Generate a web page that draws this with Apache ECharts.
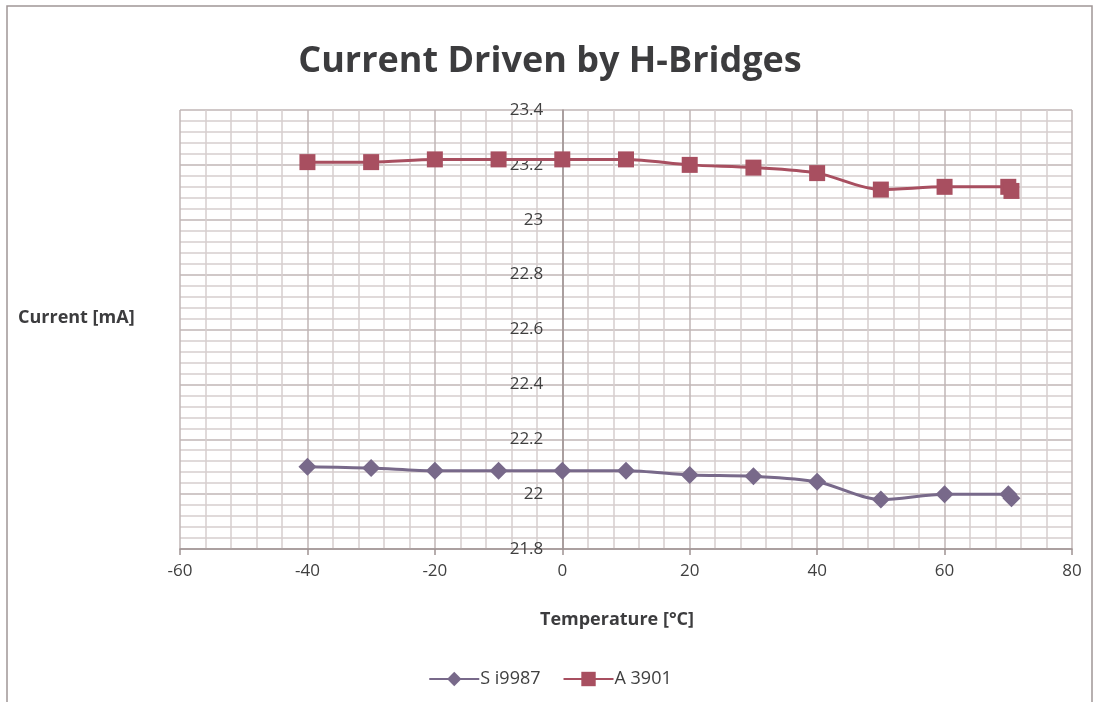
<!DOCTYPE html>
<html><head><meta charset="utf-8">
<script src="https://cdn.jsdelivr.net/npm/echarts@6/dist/echarts.min.js"></script>
<style>html,body{margin:0;padding:0;background:#fff}#c{width:1100px;height:702px}</style>
</head><body><div id="c"></div>
<script>
const temperatures = [-40, -30, -20, -10, 0, 10, 20, 30, 40, 50, 60, 70, 70.5];
const si9987 = [22.10, 22.095, 22.085, 22.085, 22.085, 22.085, 22.07, 22.065, 22.045, 21.98, 22.0, 22.0, 21.985];
const a3901 = [23.21, 23.21, 23.22, 23.22, 23.22, 23.22, 23.20, 23.19, 23.17, 23.11, 23.12, 23.12, 23.105];
const seriesNames = ['S i9987', 'A 3901'];
const titleText = 'Current Driven by H-Bridges';
const xTitle = 'Temperature [°C]';
const yTitle = 'Current [mA]';

const font = '"Open Sans", Lato, sans-serif';
const gridLeft = 180, gridRight = 28, width = 1100;
const xMin = -60, xMax = 80;
// y axis crosses the x axis at 0
const yAxisOffset = -((0 - xMin) / (xMax - xMin)) * (width - gridLeft - gridRight);

const chart = echarts.init(document.getElementById('c'), null, {renderer: 'canvas'});
const pair = (xs, ys) => xs.map((x, i) => [x, ys[i]]);

chart.setOption({
  animation: false,
  backgroundColor: '#fff',
  title: {
    text: titleText, left: 'center', top: 39,
    textStyle: {fontFamily: font, fontWeight: 'bold', fontSize: 36, color: '#3c3c3e'}
  },
  grid: {left: gridLeft, right: gridRight, top: 110, bottom: 153, containLabel: false},
  xAxis: {
    type: 'value', min: xMin, max: xMax, interval: 20,
    axisLine: {show: true, lineStyle: {color: '#9e9292', width: 1.5}},
    axisTick: {show: true, length: 6, lineStyle: {color: '#9e9292', width: 1.5}},
    axisLabel: {fontFamily: font, fontSize: 17, color: '#404040', margin: 14},
    splitLine: {show: true, lineStyle: {color: '#c0b6b6', width: 1.5}},
    minorTick: {show: false, splitNumber: 5},
    minorSplitLine: {show: true, lineStyle: {color: '#d6cece', width: 1.5}}
  },
  yAxis: {
    type: 'value', min: 21.8, max: 23.4, interval: 0.2,
    offset: yAxisOffset,
    axisLine: {show: true, onZero: false, lineStyle: {color: '#9e9292', width: 1.5}},
    axisTick: {show: false},
    axisLabel: {fontFamily: font, fontSize: 17, color: '#404040', margin: 19,
      formatter: v => String(Math.round(v * 10) / 10)},
    splitLine: {show: true, lineStyle: {color: '#c0b6b6', width: 1.5}},
    minorTick: {show: false, splitNumber: 5},
    minorSplitLine: {show: true, lineStyle: {color: '#d6cece', width: 1.5}}
  },
  legend: {
    bottom: 9, left: 'center', itemWidth: 50, itemHeight: 18, itemGap: 22,
    textStyle: {fontFamily: font, fontSize: 18, color: '#404040', padding: [0, 0, 0, -4]},
    data: seriesNames
  },
  graphic: [
    {type: 'rect', shape: {x: 7, y: 6, width: 1085, height: 720},
      style: {fill: 'none', stroke: '#a09696', lineWidth: 1.5}, silent: true},
    {type: 'text', left: 18, top: 309,
      style: {text: yTitle, fontFamily: font, fontWeight: 'bold', fontSize: 18, fill: '#3c3c3e'}},
    {type: 'text', x: 617, y: 620,
      style: {text: xTitle, fontFamily: font, fontWeight: 'bold', fontSize: 18, fill: '#3c3c3e',
        align: 'center', verticalAlign: 'middle'}}
  ],
  series: [
    {name: seriesNames[0], type: 'line', data: pair(temperatures, si9987), smooth: 0.3,
      symbol: 'diamond', symbolSize: 18,
      itemStyle: {color: '#78698a'}, lineStyle: {color: '#78698a', width: 3}},
    {name: seriesNames[1], type: 'line', data: pair(temperatures, a3901), smooth: 0.3,
      symbol: 'rect', symbolSize: 16,
      itemStyle: {color: '#a84f60'}, lineStyle: {color: '#a84f60', width: 3}}
  ]
});
</script></body></html>
